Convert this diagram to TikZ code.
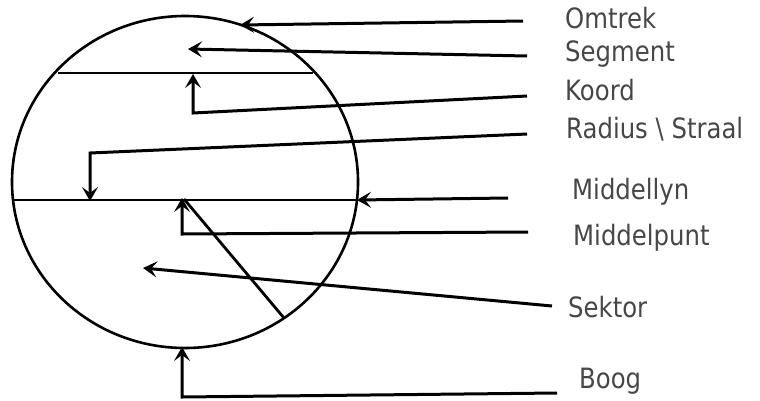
\documentclass[tikz,border=0pt]{standalone}
\usepackage{fontspec}
\setmainfont{DejaVu Sans}
\usetikzlibrary{arrows.meta}
\newcommand\sxlbl[1]{\scalebox{0.87}[1]{#1}}
\begin{document}
\begin{tikzpicture}[x=1pt,y=-1pt,
  ln/.style={line width=2.8pt},
  arr/.style={line width=3pt,-{Stealth[length=14pt,width=16pt,inset=6pt]}},
  lbl/.style={anchor=base west,inner sep=0pt,font=\fontsize{28}{30}\selectfont,text=black!72}]
\useasboundingbox (0,0) rectangle (760,400);
% circle
\draw[line width=2.6pt] (185,182) ellipse [x radius=173pt, y radius=166pt];
% chord and diameter and radius
\coordinate (chL) at (58,73);  \coordinate (chR) at (313,73);
\coordinate (diL) at (13,200); \coordinate (diR) at (357,200);
\coordinate (ctr) at (184,199); \coordinate (raE) at (284,318);
\draw[ln] (chL) -- (chR);
\draw[ln] (diL) -- (diR);
\draw[ln] (ctr) -- (raE);
% labels
\node[lbl] (lOm) at (565,28)  {\sxlbl{Omtrek}};
\node[lbl] (lSe) at (565,61)  {\sxlbl{Segment}};
\node[lbl] (lKo) at (565,100) {\sxlbl{Koord}};
\node[lbl] (lRa) at (566,138) {\sxlbl{Radius \textbackslash{} Straal}};
\node[lbl] (lMl) at (572,199) {\sxlbl{Middellyn}};
\node[lbl] (lMp) at (573,245) {\sxlbl{Middelpunt}};
\node[lbl] (lSk) at (568,317) {\sxlbl{Sektor}};
\node[lbl] (lBo) at (579,388) {\sxlbl{Boog}};
% connector points
\coordinate (omA) at (523,21);  \coordinate (omT) at (240,25);
\coordinate (seA) at (527,56);  \coordinate (seT) at (188,49);
\coordinate (koA) at (527,96);  \coordinate (koB) at (193,113); \coordinate (koT) at (193,74);
\coordinate (rdA) at (527,134); \coordinate (rdB) at (90,153);  \coordinate (rdT) at (90,201);
\coordinate (mlA) at (508,198); \coordinate (mlT) at (357,200);
\coordinate (mpA) at (528,232); \coordinate (mpB) at (182,234); \coordinate (mpT) at (182,198);
\coordinate (skA) at (552,306); \coordinate (skT) at (143,268);
\coordinate (boA) at (557,393); \coordinate (boB) at (182,397); \coordinate (boT) at (182,347);
% connectors
\draw[arr] (omA) -- (omT);
\draw[arr] (seA) -- (seT);
\draw[arr] (koA) -- (koB) -- (koT);
\draw[arr] (rdA) -- (rdB) -- (rdT);
\draw[arr] (mlA) -- (mlT);
\draw[arr] (mpA) -- (mpB) -- (mpT);
\draw[arr] (skA) -- (skT);
\draw[arr] (boA) -- (boB) -- (boT);
\end{tikzpicture}
\end{document}
